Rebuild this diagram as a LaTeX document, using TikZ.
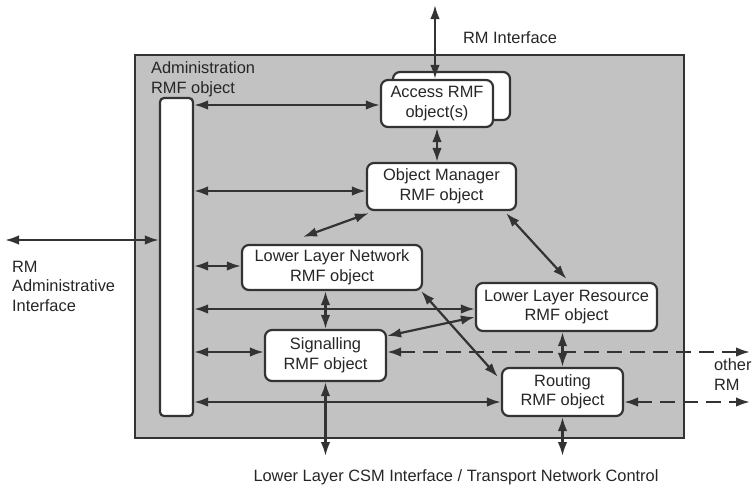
\documentclass[tikz,border=0pt]{standalone}
\usepackage{fontspec}
\setmainfont{Liberation Sans}
\usetikzlibrary{arrows.meta}
\begin{document}
\begin{tikzpicture}[x=1pt,y=-1pt,line width=2.2pt,
    txt/.style={font=\fontsize{16.4}{19.5}\selectfont,text=black!85},
    rmf/.style={txt,draw=black!80,fill=white,rounded corners=7pt,align=center,inner sep=0pt},
    lbl/.style={txt,align=left,inner sep=0pt},
    link/.style={draw=black!80,{Latex[length=14pt,width=9.5pt]}-{Latex[length=14pt,width=9.5pt]}},
    dlink/.style={link,dash pattern=on 15pt off 8pt}]
    \useasboundingbox (0,0) rectangle (753,491);
    % resource manager outline
    \draw[draw=black!80,fill=black!24] (135,55) rectangle (684,438);
    % objects
    \node[rmf,rounded corners=4pt,minimum width=33pt,minimum height=318pt] (admin) at (176.5,257) {};
    \node[rmf,minimum width=117pt,minimum height=48pt] (accessbk) at (451.5,96) {};
    \node[rmf,minimum width=112pt,minimum height=47pt] (access) at (437,103.5) {Access RMF\\object(s)};
    \node[rmf,minimum width=149pt,minimum height=47pt] (om) at (441.5,186.5) {Object Manager\\RMF object};
    \node[rmf,minimum width=180pt,minimum height=45pt] (lln) at (332,267.5) {Lower Layer Network\\RMF object};
    \node[rmf,minimum width=121pt,minimum height=51pt] (sig) at (325.5,355.5) {Signalling\\RMF object};
    \node[rmf,minimum width=181pt,minimum height=48pt] (llr) at (566.5,307) {Lower Layer Resource\\RMF object};
    \node[rmf,minimum width=121pt,minimum height=48pt] (rout) at (562.5,392) {Routing\\RMF object};
    % labels
    \node[lbl,anchor=west] (rmif) at (462,38) {RM Interface};
    \node[lbl,anchor=north west] (admlbl) at (150,61) {Administration\\RMF object};
    \node[lbl,anchor=north west] (admif) at (11,260) {RM\\Administrative\\Interface};
    \node[lbl,anchor=north west] (other) at (713,358) {other\\RM};
    \node[lbl] (csm) at (456,477) {Lower Layer CSM Interface / Transport Network Control};
    % free ends
    \coordinate (rmtop) at (435,5);
    \coordinate (rmadm) at (5,240);
    \coordinate (edge) at (750,0);
    \coordinate (bottom) at (0,456);
    % connectors
    \draw[link] (rmtop) -- (rmtop |- access.north);
    \draw[link] (rmadm) -- (admin.west |- rmadm);
    \draw[link] (admin.east |- 0,105) -- (access.west |- 0,105);
    \draw[link] (admin.east |- 0,191) -- (om.west |- 0,191);
    \draw[link] (admin.east |- 0,266) -- (lln.west |- 0,266);
    \draw[link] (admin.east |- 0,309) -- (llr.west |- 0,309);
    \draw[link] (admin.east |- 0,352) -- (sig.west |- 0,352);
    \draw[link] (admin.east |- 0,402) -- (rout.west |- 0,402);
    \draw[link] (access.south) -- (access.south |- om.north);
    \draw[link] ([xshift=3pt,yshift=-2pt]om.south west) -- ([xshift=-29pt,yshift=7pt]lln.north);
    \draw[link] ([xshift=-11pt,yshift=-2pt]om.south east) -- ([yshift=3pt]llr.north);
    \draw[link] (sig.north) -- (sig.north |- lln.south);
    \draw[link] ([yshift=-7pt]sig.north east) -- ([yshift=-10pt]llr.west);
    \draw[link] ([xshift=-2pt]lln.south east) -- ([xshift=-3pt,yshift=-10pt]rout.north west);
    \draw[link] (rout.north) -- (rout.north |- llr.south);
    \draw[link] (sig.south) -- (sig.south |- bottom);
    \draw[link] (rout.south) -- (rout.south |- bottom);
    \draw[dlink] (sig.east |- 0,352) -- (edge |- 0,352);
    \draw[dlink] (rout.east |- 0,402) -- (edge |- 0,402);
\end{tikzpicture}
\end{document}
